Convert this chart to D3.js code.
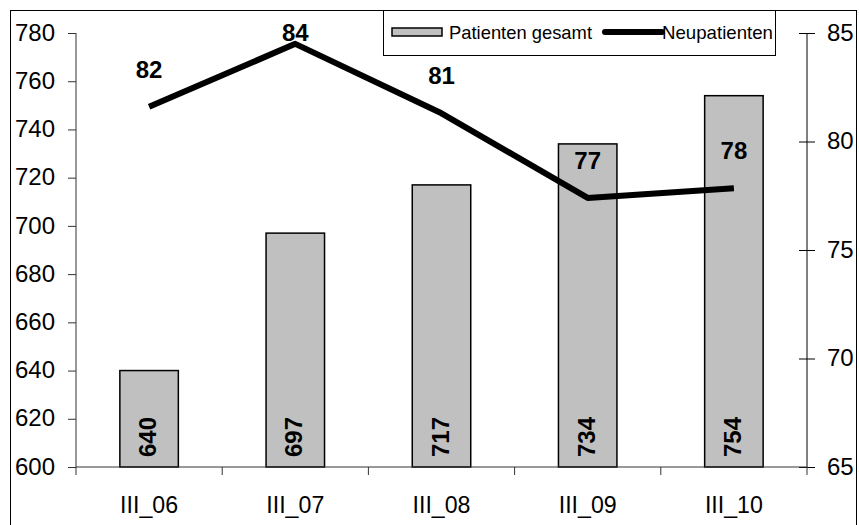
<!DOCTYPE html>
<html><head><meta charset="utf-8">
<script src="https://cdn.jsdelivr.net/npm/d3@7/dist/d3.min.js"></script>
<style>body{margin:0;background:#fff}svg{display:block;font-family:Arial,"Liberation Sans",sans-serif}</style>
</head><body>
<svg id="c" width="859" height="525"></svg>
<script>
const categories = ["III_06","III_07","III_08","III_09","III_10"];
const patientenGesamt = [640, 697, 717, 734, 754];
const neupatienten = [81.6, 84.5, 81.3, 77.4, 77.85];
const neupatientenLabels = ["82","84","81","77","78"];
const leftTicks = [600,620,640,660,680,700,720,740,760,780];
const rightTicks = [65,70,75,80,85];

const FF = "Arial,'Liberation Sans',sans-serif";
const svg = d3.select("#c");
const L = 76, R = 807, T = 33, B = 467;

svg.append("rect").attr("x",10.5).attr("y",10.5).attr("width",846).attr("height",530)
  .attr("fill","none").attr("stroke","#000").attr("stroke-width",1);

const x = d3.scaleBand().domain(categories).range([L,R]).paddingInner(0.6).paddingOuter(0.3);
const xb = d3.scaleBand().domain(categories).range([L,R]);
const yL = d3.scaleLinear().domain([600,780]).range([B,T]);
const yR = d3.scaleLinear().domain([65,85]).range([B,T]);

// bars
svg.append("g").selectAll("rect").data(patientenGesamt).join("rect")
  .attr("x",(d,i)=>x(categories[i])).attr("width",x.bandwidth())
  .attr("y",d=>yL(d)).attr("height",d=>B-yL(d))
  .attr("fill","#c0c0c0").attr("stroke","#000").attr("stroke-width",1.5);

// left axis
const gl = svg.append("g").attr("transform",`translate(${L},0)`)
  .call(d3.axisLeft(yL).tickValues(leftTicks).tickSize(8).tickPadding(13));
gl.selectAll("text").attr("font-size",24).attr("fill","#000").attr("font-family",FF).attr("dy","0.3em");
gl.selectAll("line").attr("stroke","#333");
gl.select(".domain").attr("stroke","#333").attr("d",`M0,${B}V${T}`);

// right axis
const gr = svg.append("g").attr("transform",`translate(${R},0)`)
  .call(d3.axisRight(yR).tickValues(rightTicks).tickSize(8).tickPadding(12));
gr.selectAll(".tick line").attr("x1",-8).attr("stroke","#000");
gr.selectAll("text").attr("font-size",24).attr("fill","#000").attr("font-family",FF).attr("dy","0.3em");
gr.select(".domain").attr("stroke","#000").attr("d",`M0,${B}V${T}`);

// bottom axis
const gb = svg.append("g").attr("transform",`translate(0,${B})`)
  .call(d3.axisBottom(xb).tickSize(0));
gb.select(".domain").attr("stroke","#333").attr("d",`M${L},0H${R}`);
gb.selectAll("text").attr("font-size",24).attr("fill","#000").attr("font-family",FF)
  .attr("y",46).attr("dy",0).attr("textLength",58).attr("lengthAdjust","spacingAndGlyphs");
gb.append("g").selectAll("line").data(d3.range(categories.length+1)).join("line")
  .attr("x1",i=>L+i*xb.step()).attr("x2",i=>L+i*xb.step()).attr("y1",0).attr("y2",8)
  .attr("stroke","#333");

// rotated bar labels
svg.append("g").selectAll("text").data(patientenGesamt).join("text")
  .attr("transform",(d,i)=>`translate(${xb(categories[i])+xb.bandwidth()/2+7},${B-10}) rotate(-90)`)
  .attr("font-size",24).attr("font-weight","bold").attr("fill","#000")
  .text(d=>d);

// line
const cx = i => xb(categories[i])+xb.bandwidth()/2;
svg.append("path").datum(neupatienten)
  .attr("d",d3.line().x((d,i)=>cx(i)).y(d=>yR(d)))
  .attr("fill","none").attr("stroke","#000").attr("stroke-width",6).attr("stroke-linejoin","round");

svg.append("g").selectAll("text").data(neupatienten).join("text")
  .attr("x",(d,i)=>cx(i)).attr("y",d=>Math.max(yR(d)-29, 41))
  .attr("text-anchor","middle").attr("font-size",24).attr("font-weight","bold").attr("fill","#000")
  .text((d,i)=>neupatientenLabels[i]);

// legend
const lg = svg.append("g");
lg.append("rect").attr("x",383.5).attr("y",10.5).attr("width",392).attr("height",45)
  .attr("fill","#fff").attr("stroke","#000").attr("stroke-width",1);
lg.append("rect").attr("x",392).attr("y",28).attr("width",50).attr("height",8)
  .attr("fill","#c0c0c0").attr("stroke","#000").attr("stroke-width",1.5);
lg.append("text").attr("x",449).attr("y",39).attr("font-size",19).attr("fill","#000")
  .attr("textLength",143).attr("lengthAdjust","spacingAndGlyphs").text("Patienten gesamt");
lg.append("line").attr("x1",605).attr("x2",662).attr("y1",32).attr("y2",32)
  .attr("stroke","#000").attr("stroke-width",6).attr("stroke-linecap","round");
lg.append("text").attr("x",662).attr("y",39).attr("font-size",19).attr("fill","#000")
  .attr("textLength",111).attr("lengthAdjust","spacingAndGlyphs").text("Neupatienten");
</script>
</body></html>
